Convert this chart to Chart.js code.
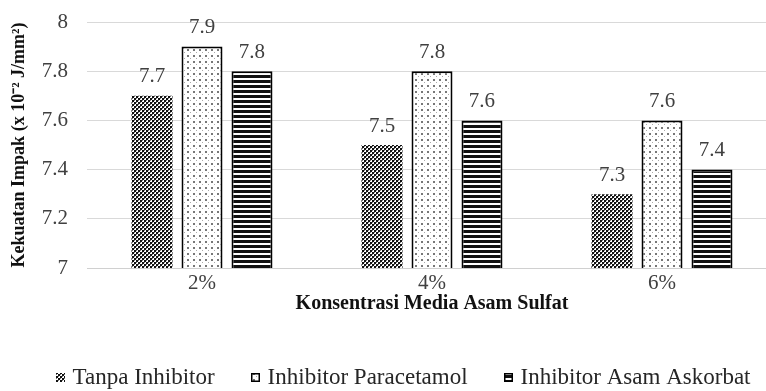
<!DOCTYPE html>
<html>
<head>
<meta charset="utf-8">
<script src="https://cdn.jsdelivr.net/npm/chart.js@4.4.0/dist/chart.umd.min.js"></script>
<style>
  html, body { margin: 0; padding: 0; background: #fff; overflow: hidden; }
  #wrap { position: relative; width: 796px; height: 391px; }
</style>
</head>
<body>
<div id="wrap"><canvas id="c" width="796" height="391"></canvas></div>
<script>
// Impact strength per sulfuric-acid concentration
const categories = ['2%', '4%', '6%'];
const seriesNames = ['Tanpa Inhibitor', 'Inhibitor Paracetamol', 'Inhibitor Asam Askorbat'];
const tanpaInhibitor = [7.7, 7.5, 7.3];
const inhibitorParacetamol = [7.9, 7.8, 7.6];
const inhibitorAsamAskorbat = [7.8, 7.6, 7.4];
const yTickValues = [7, 7.2, 7.4, 7.6, 7.8, 8];

const FONT = '"Liberation Serif", "Times New Roman", serif';

function makePattern(w, h, paint) {
  const c = document.createElement('canvas');
  c.width = w; c.height = h;
  const g = c.getContext('2d');
  g.fillStyle = '#fff';
  g.fillRect(0, 0, w, h);
  paint(g);
  return g.createPattern(c, 'repeat');
}

// dense checker fill
const checkerFill = makePattern(4, 4, g => {
  g.fillStyle = '#111';
  g.fillRect(0, 0, 2, 2);
  g.fillRect(2, 2, 2, 2);
  g.fillStyle = '#777';
  g.fillRect(2, 0, 1, 1);
  g.fillRect(0, 2, 1, 1);
});
// sparse dotted fill
const dotFill = makePattern(6, 6, g => {
  g.fillStyle = '#777';
  g.fillRect(1, 1, 2, 2);
  g.fillStyle = '#aaa';
  g.fillRect(4, 4, 1, 1);
});
// horizontal stripes
const stripeFill = makePattern(4, 5, g => {
  g.fillStyle = '#111';
  g.fillRect(0, 0, 4, 3);
});

// value labels above each bar
const valueLabels = {
  id: 'valueLabels',
  afterDatasetsDraw(chart) {
    const ctx = chart.ctx;
    ctx.save();
    ctx.font = '21px ' + FONT;
    ctx.fillStyle = '#404040';
    ctx.textAlign = 'center';
    ctx.textBaseline = 'alphabetic';
    chart.data.datasets.forEach((ds, i) => {
      chart.getDatasetMeta(i).data.forEach((bar, j) => {
        ctx.fillText(ds.data[j].toFixed(1), bar.x, bar.y - 13.5);
      });
    });
    ctx.restore();
  }
};

// legend row drawn under the axis title
const legendRow = {
  id: 'legendRow',
  afterDraw(chart, args, opts) {
    const ctx = chart.ctx;
    ctx.save();
    ctx.font = opts.size + 'px ' + FONT;
    const items = chart.data.datasets.map(ds => ({
      ds, w: opts.box + opts.gap + ctx.measureText(ds.label).width
    }));
    const total = items.reduce((s, it) => s + it.w, 0) + opts.spacing * (items.length - 1);
    let x = opts.cx - total / 2;
    const y = opts.y;
    items.forEach(it => {
      const bx = Math.round(x), by = Math.round(y - opts.box / 2);
      ctx.fillStyle = it.ds.backgroundColor;
      ctx.fillRect(bx, by, opts.box, opts.box);
      if (it.ds.borderWidth) {
        ctx.lineWidth = 1.5;
        ctx.strokeStyle = it.ds.borderColor;
        ctx.strokeRect(bx + 0.75, by + 0.75, opts.box - 1.5, opts.box - 1.5);
      }
      ctx.fillStyle = '#262626';
      ctx.textAlign = 'left';
      ctx.textBaseline = 'middle';
      ctx.fillText(it.ds.label, x + opts.box + opts.gap, y + 1);
      x += it.w + opts.spacing;
    });
    ctx.restore();
  }
};

new Chart(document.getElementById('c'), {
  type: 'bar',
  data: {
    labels: categories,
    datasets: [
      { label: seriesNames[0], data: tanpaInhibitor, backgroundColor: checkerFill, borderWidth: 0 },
      { label: seriesNames[1], data: inhibitorParacetamol, backgroundColor: dotFill, borderColor: '#000', borderWidth: 2, borderSkipped: false },
      { label: seriesNames[2], data: inhibitorAsamAskorbat, backgroundColor: stripeFill, borderColor: '#000', borderWidth: 2, borderSkipped: false }
    ]
  },
  options: {
    responsive: false,
    animation: false,
    devicePixelRatio: 1,
    layout: { padding: { top: 22, right: 19, bottom: 73, left: 0 } },
    datasets: { bar: { categoryPercentage: 0.652, barPercentage: 0.82 } },
    plugins: {
      legend: { display: false },
      tooltip: { enabled: false },
      legendRow: { size: 23, box: 9, gap: 8, spacing: 36, cx: 403, y: 377 }
    },
    scales: {
      x: {
        grid: { display: false, drawTicks: false },
        border: { display: true, color: '#d0d0d0', width: 1 },
        ticks: { font: { family: FONT, size: 21 }, color: '#404040', padding: 3 },
        title: {
          display: true, text: 'Konsentrasi Media Asam Sulfat', color: '#111',
          font: { family: FONT, size: 20, weight: 'bold' }, padding: { top: 0, bottom: 2 }
        },
        afterFit(s) { s.height = 50; s.paddingLeft = 0; s.paddingRight = 0; }
      },
      y: {
        min: 7, max: 8,
        afterBuildTicks(s) { s.ticks = yTickValues.map(v => ({ value: v })); },
        grid: { color: '#d9d9d9', lineWidth: 1, drawTicks: false },
        border: { display: false },
        ticks: {
          font: { family: FONT, size: 21 }, color: '#404040', padding: 19,
          callback: v => String(Number(v.toFixed(1)))
        },
        title: {
          display: true, text: 'Kekuatan Impak (x 10⁻² J/mm²)', color: '#111',
          font: { family: FONT, size: 18, weight: 'bold' }, padding: { top: 9, bottom: 0 }
        },
        afterFit(s) { s.width = 87; s.paddingTop = 0; s.paddingBottom = 0; }
      }
    }
  },
  plugins: [valueLabels, legendRow]
});
</script>
</body>
</html>
